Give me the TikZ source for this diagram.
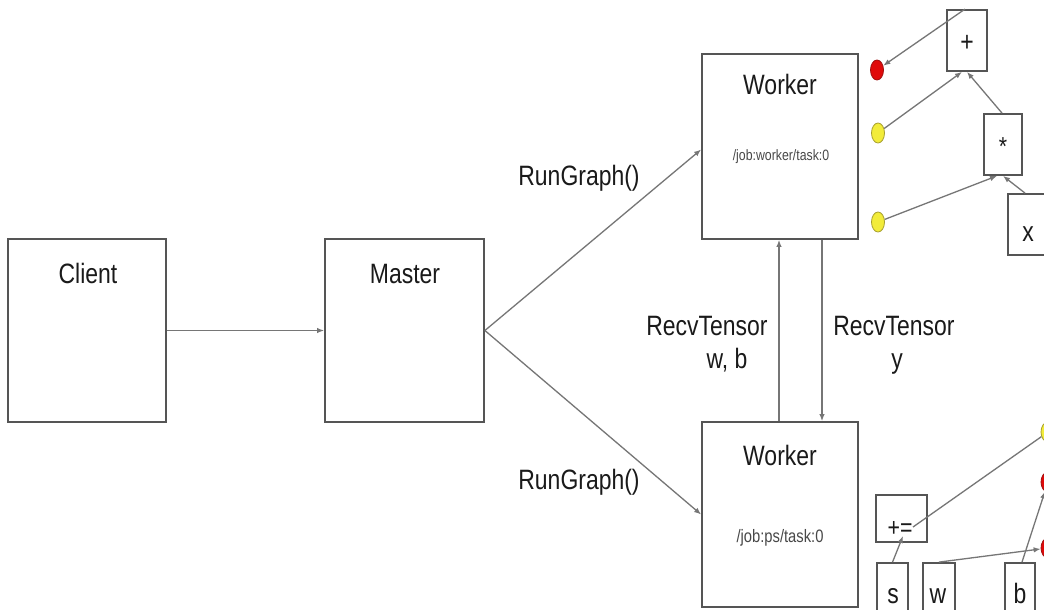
\documentclass[tikz,border=0pt]{standalone}
\usepackage{fontspec}
\newfontfamily\labfont[FakeStretch=0.82]{Liberation Sans}
\usetikzlibrary{arrows.meta,shapes.geometric}
\definecolor{boxgray}{HTML}{555555}
\definecolor{linegray}{HTML}{767676}
\definecolor{inkgray}{HTML}{1A1A1A}
\definecolor{dotred}{HTML}{E00A0A}
\definecolor{dotredrim}{HTML}{A01010}
\definecolor{dotyellow}{HTML}{F2EC3A}
\definecolor{dotyellowrim}{HTML}{A8A030}
\begin{document}
\begin{tikzpicture}[x=1pt,y=-1pt,
  box/.style={draw=boxgray,line width=1.8pt,fill=white,rectangle,inner sep=0pt},
  lbl/.style={font=\labfont\fontsize{28}{30}\selectfont,text=inkgray,inner sep=0pt,anchor=base},
  sublbl/.style={font=\labfont\fontsize{#1}{#1}\selectfont,text=inkgray!80,inner sep=0pt,anchor=base},
  conn/.style={draw=linegray,line width=1.3pt,-{Latex[length=7pt,width=5.5pt]}},
  plainline/.style={draw=linegray,line width=1.3pt},
  reddot/.style={ellipse,draw=dotredrim,fill=dotred,line width=0.8pt,minimum width=13pt,minimum height=20pt,inner sep=0pt},
  yellowdot/.style={ellipse,draw=dotyellowrim,fill=dotyellow,line width=0.8pt,minimum width=13pt,minimum height=20pt,inner sep=0pt}]

% canvas
\fill[white] (0,0) rectangle (1044,610);
\useasboundingbox (0,0) rectangle (1044,610);

% main processes
\node[box,minimum width=158pt,minimum height=183pt] (client) at (87,330.5) {};
\node[box,minimum width=159pt,minimum height=183pt] (master) at (404.5,330.5) {};
\node[box,minimum width=156pt,minimum height=185pt] (wtop) at (780,146.5) {};
\node[box,minimum width=156pt,minimum height=185pt] (wbot) at (780,514.5) {};

\node[lbl] (clientlbl) at (88,283) {Client};
\node[lbl] (masterlbl) at (405,283) {Master};
\node[lbl] (wtoplbl) at (780,95) {Worker};
\node[sublbl=15] (wtopjob) at (781,160) {/job:worker/task:0};
\node[lbl] (wbotlbl) at (780,465) {Worker};
\node[sublbl=18] (wbotjob) at (780,542) {/job:ps/task:0};

% client -> master -> workers
\draw[conn] (client.east) -- (master.west);
\draw[conn] (master.east) -- ([yshift=-3pt]wtop.west);
\draw[conn] (master.east) -- (wbot.west);
\node[lbl] (rg1) at (579,185) {RunGraph()};
\node[lbl] (rg2) at (579,489) {RunGraph()};

% tensor exchange between workers
\draw[conn] ([xshift=-1pt]wbot.north) -- ([xshift=-1pt]wtop.south);
\draw[conn] ([xshift=42pt]wtop.south) -- ([xshift=42pt]wbot.north);
\node[lbl] (recv1) at (707,335) {RecvTensor};
\node[lbl] (recv1b) at (727,368) {w, b};
\node[lbl] (recv2) at (894,335) {RecvTensor};
\node[lbl] (recv2b) at (897,368) {y};

% worker subgraph
\node[box,minimum width=40pt,minimum height=61pt] (plus) at (967,40.5) {};
\node[sublbl=28,text=inkgray] (pluslbl) at (967,52) {+};
\node[box,minimum width=38pt,minimum height=61pt] (star) at (1003,144.5) {};
\node[sublbl=26,text=inkgray] (starlbl) at (1003,155) {*};
\node[box,minimum width=40pt,minimum height=61pt] (xbox) at (1028,224.5) {};
\node[sublbl=28,text=inkgray] (xlbl) at (1028,241) {x};
\node[reddot] (red1) at (877,70) {};
\node[yellowdot] (yel1) at (878,133) {};
\node[yellowdot] (yel2) at (878,222) {};

\draw[conn] ([xshift=-2pt]plus.north) -- (red1);
\draw[conn] (yel1) -- ([xshift=-5pt]plus.south);
\draw[conn] ([xshift=-1pt]star.north) -- ([xshift=0pt]plus.south);
\draw[conn] (yel2) -- ([xshift=-6pt]star.south);
\draw[conn] ([xshift=-3pt]xbox.north) -- (star.south);

% parameter server subgraph
\node[box,minimum width=51pt,minimum height=47pt] (pe) at (901.5,518.5) {};
\node[sublbl=26,text=inkgray] (pelbl) at (900,536) {+=};
\node[box,minimum width=31pt,minimum height=57pt] (s) at (892.5,591.5) {};
\node[box,minimum width=32pt,minimum height=57pt] (w) at (939,591.5) {};
\node[box,minimum width=30pt,minimum height=57pt] (b) at (1020,591.5) {};
\node[sublbl=28,text=inkgray] (slbl) at (893,603) {s};
\node[sublbl=28,text=inkgray] (wlbl) at (938,603) {w};
\node[sublbl=28,text=inkgray] (blbl) at (1020,603) {b};
\node[yellowdot,minimum width=14pt] (yb) at (1048,432) {};
\node[reddot,minimum width=14pt] (rb1) at (1048,482) {};
\node[reddot,minimum width=14pt] (rb2) at (1048,548) {};

\coordinate (pein) at (903,536);
\coordinate (peout) at (913,527);
\draw[conn] (s.north) -- (pein);
\draw[plainline] (peout) -- (yb);
\draw[conn] ([xshift=2pt]b.north) -- (rb1);
\draw[conn] (w.north) -- (rb2);
\end{tikzpicture}
\end{document}
